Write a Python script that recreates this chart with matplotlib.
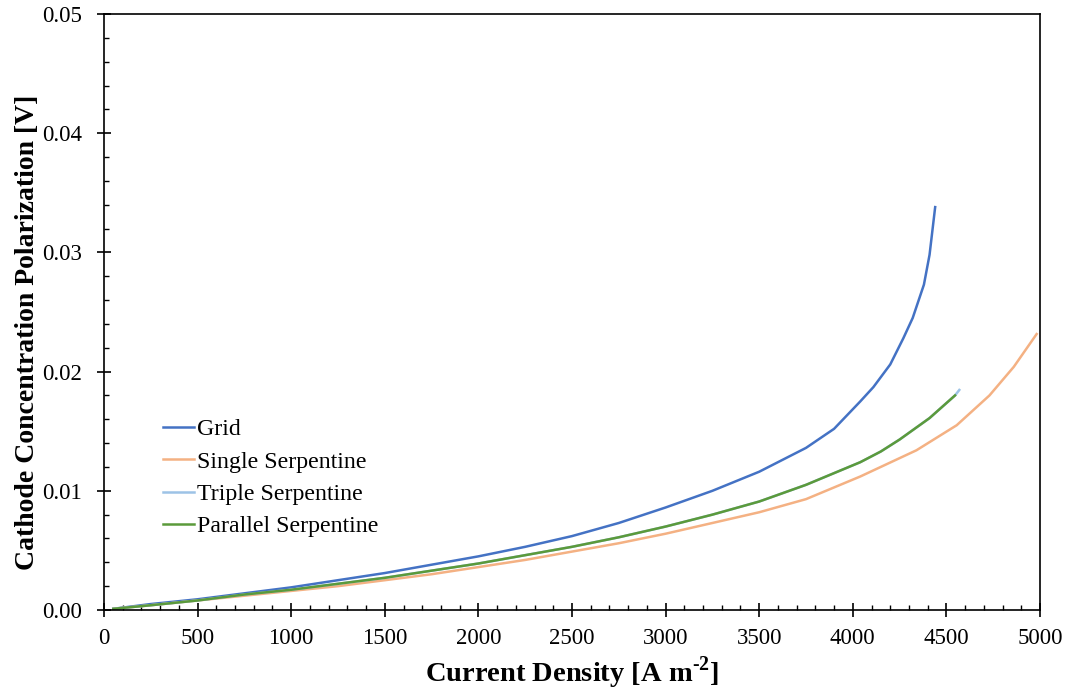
#Polarizacion por concentracion en el catodo para distintos campos de flujo
import numpy as np
import matplotlib.pyplot as plt
from matplotlib.ticker import MultipleLocator, FormatStrFormatter

#Tipografia tipo Times
plt.rcParams['font.family'] = ['Liberation Serif', 'DejaVu Serif']
plt.rcParams['mathtext.fontset'] = 'custom'
plt.rcParams['mathtext.rm'] = 'Liberation Serif:bold'
plt.rcParams['mathtext.bf'] = 'Liberation Serif:bold'

#Datos de cada campo de flujo: densidad de corriente [A m-2] y polarizacion [V]
grid_x = [50, 250, 500, 750, 1000, 1250, 1500, 1750, 2000, 2250, 2500, 2750, 3000,
          3250, 3500, 3750, 3900, 4040, 4110, 4200, 4270, 4320, 4380, 4410, 4440]
grid_y = [0.0001, 0.0005, 0.0009, 0.0014, 0.0019, 0.0025, 0.0031, 0.0038, 0.0045,
          0.0053, 0.0062, 0.0073, 0.0086, 0.0100, 0.0116, 0.0136, 0.0152, 0.0175,
          0.0187, 0.0206, 0.0228, 0.0245, 0.0273, 0.0298, 0.0338]

single_x = [50, 250, 500, 750, 1000, 1250, 1500, 1750, 2000, 2250, 2500, 2750, 3000,
            3250, 3500, 3750, 4040, 4340, 4555, 4730, 4860, 4982]
single_y = [0.0001, 0.0004, 0.0008, 0.0012, 0.0016, 0.0020, 0.0025, 0.0030, 0.0036,
            0.0042, 0.0049, 0.0056, 0.0064, 0.0073, 0.0082, 0.0093, 0.0112, 0.0134,
            0.0155, 0.0180, 0.0204, 0.02315]

triple_x = [50, 250, 500, 750, 1000, 1250, 1500, 1750, 2000, 2250, 2500, 2750, 3000,
            3250, 3500, 3750, 4040, 4150, 4250, 4410, 4546, 4569]
triple_y = [0.0001, 0.0004, 0.0008, 0.0013, 0.0017, 0.0022, 0.0027, 0.0033, 0.0039,
            0.0046, 0.0053, 0.0061, 0.0070, 0.0080, 0.0091, 0.0105, 0.0124, 0.0133,
            0.0143, 0.0161, 0.0180, 0.01846]

parallel_x = [50, 250, 500, 750, 1000, 1250, 1500, 1750, 2000, 2250, 2500, 2750, 3000,
              3250, 3500, 3750, 4040, 4150, 4250, 4410, 4546]
parallel_y = [0.0001, 0.0004, 0.0008, 0.0013, 0.0017, 0.0022, 0.0027, 0.0033, 0.0039,
              0.0046, 0.0053, 0.0061, 0.0070, 0.0080, 0.0091, 0.0105, 0.0124, 0.0133,
              0.0143, 0.0161, 0.0180]

fig = plt.figure(figsize=(10.72, 6.92), dpi=100)
ax = fig.add_axes([104/1072, 1 - 610/692, 936/1072, 596/692])

ax.plot(grid_x, grid_y, color='#4472C4', lw=1.8, label='Grid')
ax.plot(single_x, single_y, color='#F4B183', lw=1.8, label='Single Serpentine')
ax.plot(triple_x, triple_y, color='#9DC3E6', lw=1.8, label='Triple Serpentine')
ax.plot(parallel_x, parallel_y, color='#5B9A3B', lw=1.8, label='Parallel Serpentine')

ax.set_xlim(0, 5000)
ax.set_ylim(0, 0.05)
ax.xaxis.set_major_locator(MultipleLocator(500))
ax.xaxis.set_minor_locator(MultipleLocator(100))
ax.yaxis.set_major_locator(MultipleLocator(0.01))
ax.yaxis.set_minor_locator(MultipleLocator(0.002))
ax.yaxis.set_major_formatter(FormatStrFormatter('%.2f'))
ax.tick_params(which='major', direction='inout', length=10, width=1.2, labelsize=16.5)
ax.tick_params(which='minor', direction='in', length=3.5, width=1.0)
ax.tick_params(axis='x', pad=8)
ax.tick_params(axis='y', pad=11)
for s in ax.spines.values():
    s.set_linewidth(1.2)

ax.set_xlabel(r'Current Density [A m$^{\text{-}2}$]', fontsize=20.5, fontweight='bold', labelpad=4)
ax.set_ylabel('Cathode Concentration Polarization [V]', fontsize=20, fontweight='bold')
ax.yaxis.set_label_coords(-0.068, 0.465)

ax.legend(loc='upper left', bbox_to_anchor=(0.053, 0.337), frameon=False, fontsize=17.2,
          handlelength=1.3, handletextpad=0.1, labelspacing=0.44, borderaxespad=0)

fig.savefig('out.png', dpi=100)
